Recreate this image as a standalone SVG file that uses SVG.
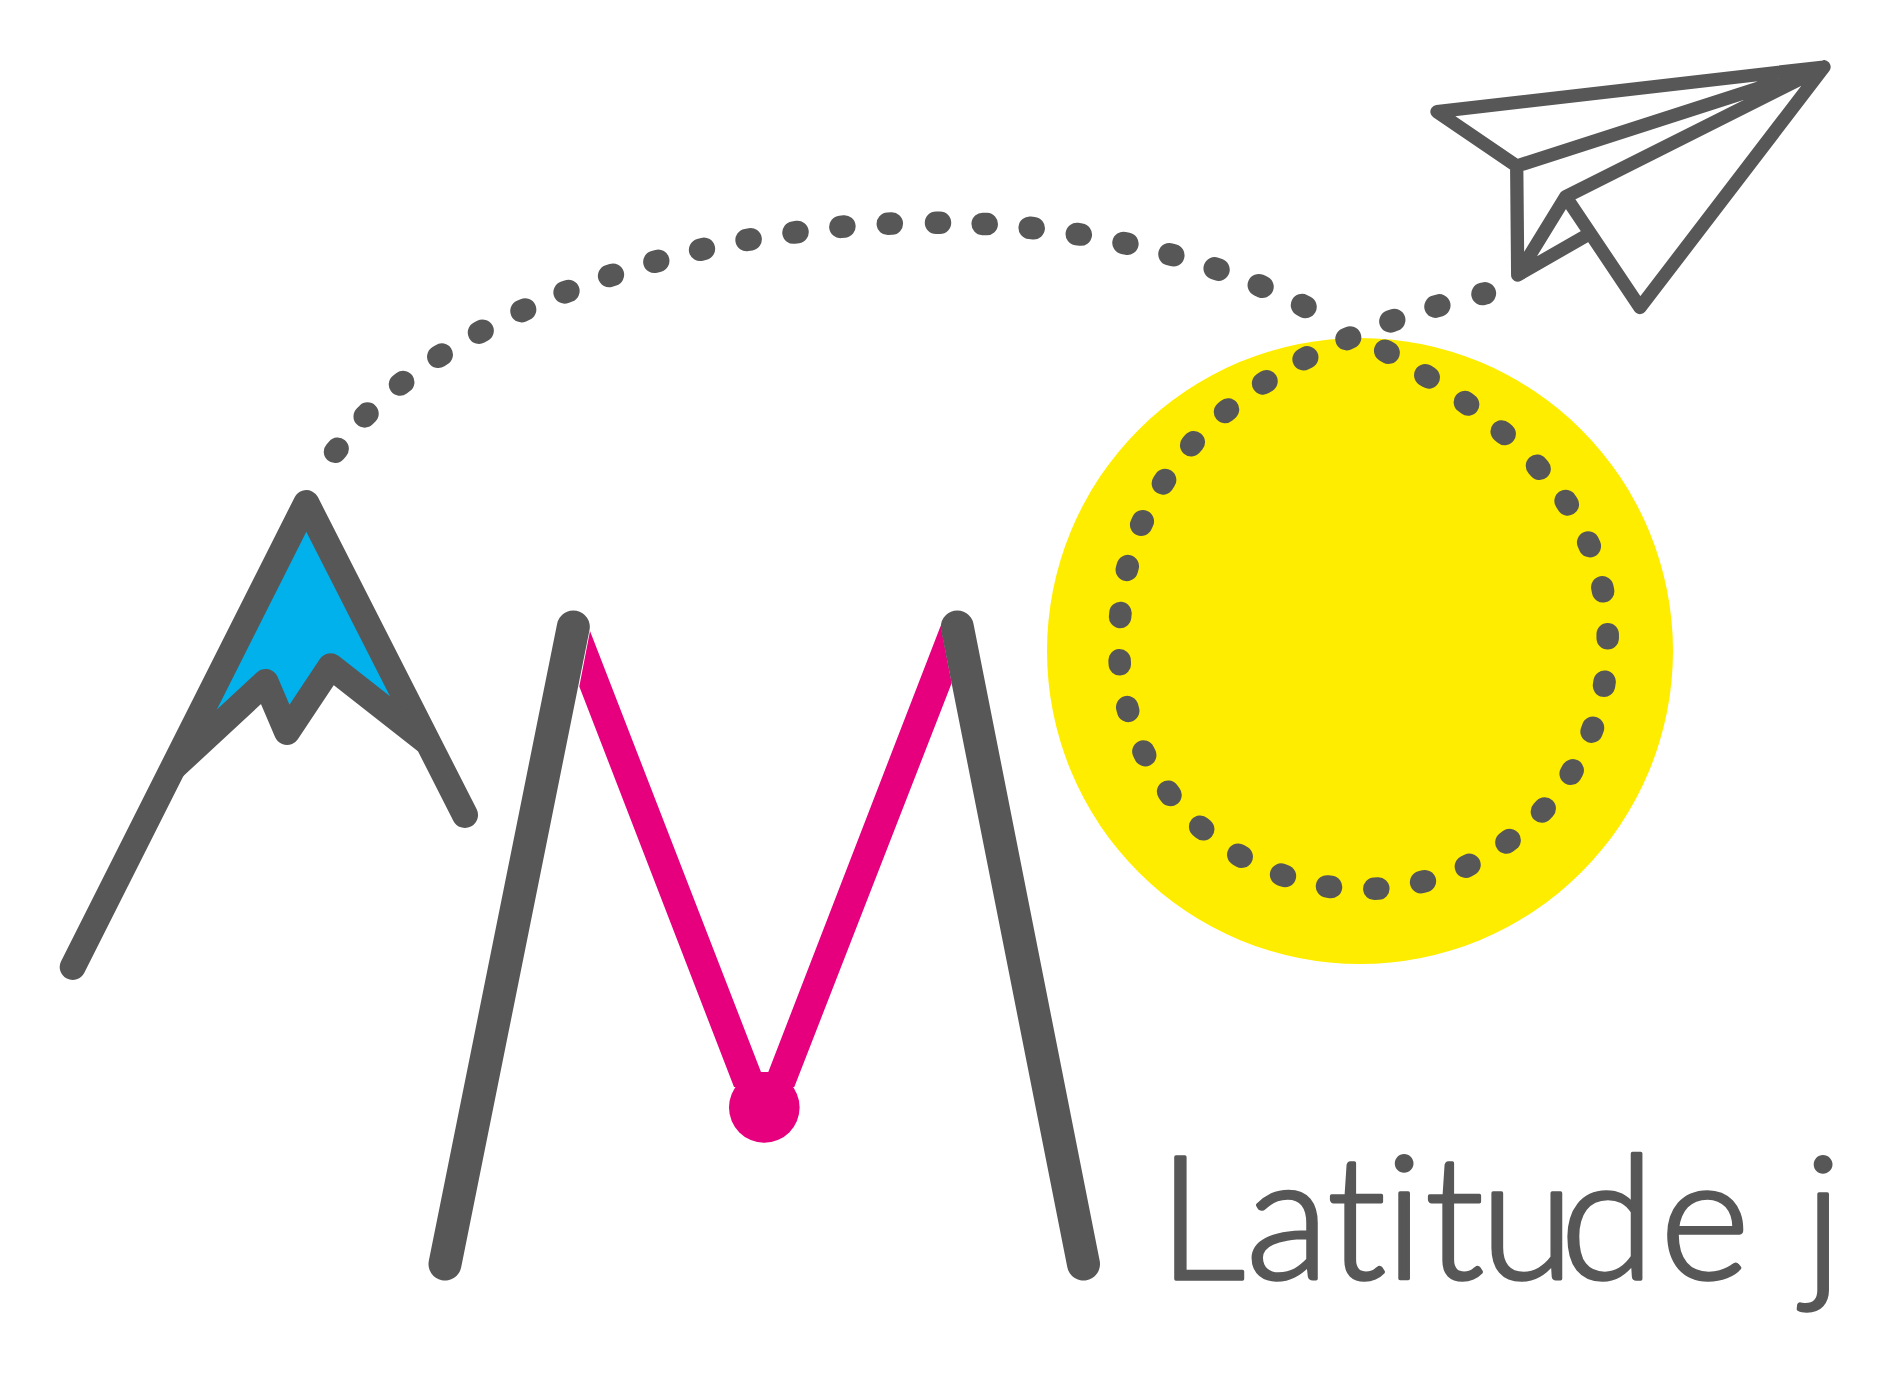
<svg xmlns="http://www.w3.org/2000/svg" width="1896" height="1375" viewBox="0 0 1896 1375">
<style>
.ink{fill:none;stroke:#575757;stroke-linecap:round;stroke-linejoin:round}
.word{font-family:"Lato","Liberation Sans",sans-serif;font-weight:300;font-size:172px;fill:#575757;stroke:#575757;stroke-width:3.5px;stroke-linejoin:round}
</style>
<rect width="1896" height="1375" fill="#ffffff"/>
<g id="sun"><circle cx="1360" cy="651" r="313" fill="#ffed00"/></g>
<g id="mountain">
<polygon points="306,503 174,767 266,682 287,732 331,666 426,741" fill="#00b1eb"/>
<path class="ink" stroke-width="26" d="M72.7,967 L306.3,503 L465,815"/>
<path class="ink" stroke-width="26" style="stroke-linecap:butt" d="M174,767 L265.7,682 L287,732 L330.7,666.3 L426.3,741.3"/>
</g>
<g id="letter-m">
<polygon points="590,631 761,1072 768.3,1072 940.7,625.7 951.7,683 794.3,1087 734,1087 579.3,686.4" fill="#e6007e"/>
<circle cx="764.3" cy="1107.5" r="35.3" fill="#e6007e"/>
<path class="ink" stroke-width="33" d="M573.3,627 L445,1264"/>
<path class="ink" stroke-width="33" d="M957.3,627 L1083.5,1264"/>
</g>
<g id="plane">
<path class="ink" stroke-width="13.3" d="M1437,111.7 L1824,67 L1640,307.5 L1565.7,196.7 L1517.7,275 L1516.7,166 Z M1516.7,166 L1824,67 M1565.7,196.7 L1824,67 M1517.7,275 L1584.3,236.7"/>
</g>
<g id="connectors">
<path class="ink" stroke-width="22.5" d="M335,451.8l2.6,-3M364.7,416.4l2.8,-2.8M400,384.5l3.2,-2.4M438.3,356.8l3.4,-2.2M479,332.7l3.6,-2M521.5,311.1l3.6,-1.6M564.6,292.4l3.8,-1.4M609.1,275.9l3.8,-1.2M654.4,261.8l3.8,-1M700.1,249.8l3.8,-1M746.6,240l4,-.7M793.5,232.6l4,-.6M840.4,226.9l4,-.4M887.8,223.8l4,-.2M936,222.7l4,0M982.7,223.9l4,.2M1029.7,227.8l4,.4M1076.8,234l4,.6M1123.5,242.9l3.9,.8M1169.5,254.2l3.8,1.1M1214.7,268.4l3.8,1.3M1258.8,285.2l3.7,1.6M1302,305.1l3.5,1.9M1385.2,350.7l3.4,2M1425.3,375.2l3.4,2.2M1464.9,402.1l3.2,2.4M1501.7,431.4l3,2.6M1537,465.8l2.6,3M1565.6,501l2.2,3.4M1588.2,542.5l1.6,3.6M1602.3,587.3l.8,4M1607.7,634.3l0,4M1604.6,681.7l-.6,4M1593,727.8l-1.4,3.8M1572.7,770.3l-2,3.4M1544.7,808.5l-2.8,3M1509.6,840.1l-3.2,2.4M1469.5,864.8l-3.6,1.8M1424.9,881.2l-3.8,1M1378.3,888.6l-4,.2M1331,887l-4,-.6M1284.9,876l-3.8,-1.4M1241.7,856.7l-3.4,-2M1203.2,829.3l-3,-2.6M1170.5,794.9l-2.4,-3.2M1145.2,755.1l-1.8,-3.6M1128.2,710.9l-1,-3.8M1119.8,664.3l-.2,-4M1120.1,617l.4,-4M1126.8,569.9l1,-3.8M1141.2,524.8l1.6,-3.6M1162.9,483.4l2.2,-3.4M1191.2,445.2l2.6,-3M1225,412l3,-2.6M1263.1,383.4l3.4,-2.2M1303.6,359.2l3.6,-1.8M1346.5,339.1l3.6,-1.6M1390.4,321.4l3.8,-1.4M1435.5,306.6l3.8,-1.2M1482.5,294l2.4,-.6"/>
</g>
<g id="wordmark">
<text class="word" y="1279" x="1158 1246 1327 1385 1425 1480 1560 1660 1750 1804">Latitude j</text>
</g>
</svg>
